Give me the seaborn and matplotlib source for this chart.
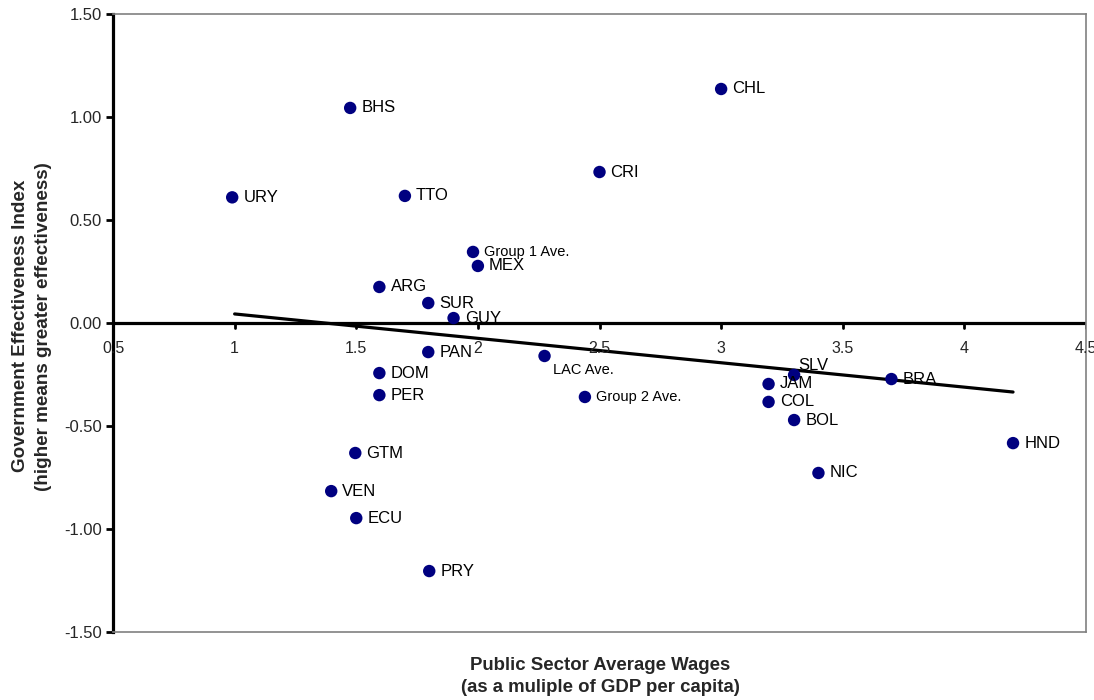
import matplotlib
matplotlib.use('Agg')
import numpy as np
import pandas as pd
import seaborn as sns
import matplotlib.pyplot as plt

# data
codes = ['URY', 'BHS', 'TTO', 'CHL', 'CRI', 'Group 1 Ave.', 'MEX', 'ARG', 'SUR', 'GUY',
         'PAN', 'DOM', 'PER', 'LAC Ave.', 'Group 2 Ave.', 'SLV', 'JAM', 'COL', 'BOL',
         'BRA', 'HND', 'NIC', 'GTM', 'VEN', 'ECU', 'PRY']
wages = [0.99, 1.475, 1.70, 3.00, 2.50, 1.98, 2.00, 1.595, 1.796, 1.90,
         1.796, 1.595, 1.595, 2.274, 2.44, 3.30, 3.195, 3.195, 3.30,
         3.70, 4.20, 3.40, 1.496, 1.397, 1.50, 1.80]
effectiveness = [0.61, 1.044, 0.617, 1.136, 0.733, 0.345, 0.277, 0.175, 0.097, 0.024,
                 -0.141, -0.243, -0.35, -0.160, -0.359, -0.252, -0.296, -0.383, -0.471,
                 -0.272, -0.583, -0.728, -0.631, -0.816, -0.947, -1.204]
trend_x = [1.0, 4.2]
trend_y = [0.044, -0.335]
x_ticks = [0.5, 1, 1.5, 2, 2.5, 3, 3.5, 4, 4.5]
x_tick_labels = ['0.5', '1', '1.5', '2', '2.5', '3', '3.5', '4', '4.5']
y_ticks = [-1.5, -1.0, -0.5, 0.0, 0.5, 1.0, 1.5]

df = pd.DataFrame({'code': codes, 'wage': wages, 'eff': effectiveness})

sns.set_style('white')
plt.rcParams['font.family'] = ['Liberation Sans', 'DejaVu Sans']

fig = plt.figure(figsize=(10.94, 7), dpi=100)
ax = fig.add_axes([0.1033, 0.0971, 0.8894, 0.8829])

sns.lineplot(x=trend_x, y=trend_y, color='black', linewidth=2.3, ax=ax, zorder=2)
sns.scatterplot(data=df, x='wage', y='eff', color='#000080', s=80,
                edgecolor='none', ax=ax, zorder=3)

# label offsets (points) - most labels sit to the right of the dot
offsets = {'SLV': (3, 7), 'LAC Ave.': (6, -10)}
for i in range(df.shape[0]):
    c = df['code'].iloc[i]
    small = 'Ave.' in c
    dx, dy = offsets.get(c, (8, 0))
    ax.annotate(c, (df['wage'].iloc[i], df['eff'].iloc[i]),
                xytext=(dx, dy), textcoords='offset points',
                ha='left', va='center', fontsize=10.5 if small else 12, color='black')

ax.set_xlim(0.5, 4.5)
ax.set_ylim(-1.5, 1.5)

# horizontal axis at zero, with its labels just under it
ax.axhline(0, color='black', linewidth=2.3, zorder=1)
for t in x_ticks:
    ax.plot([t, t], [0, -0.025], color='black', linewidth=2, zorder=1)
    ax.text(t, -0.085, x_tick_labels[x_ticks.index(t)], ha='center', va='top', fontsize=11.5)
ax.set_xticks([])

ax.set_yticks(y_ticks)
ax.set_yticklabels(['%.2f' % v for v in y_ticks], fontsize=12)
ax.tick_params(axis='y', direction='out', length=5, width=2, color='black', left=True, pad=3)

for side in ['top', 'right', 'bottom']:
    ax.spines[side].set_color('#808080')
    ax.spines[side].set_linewidth(1.2)
ax.spines['left'].set_color('black')
ax.spines['left'].set_linewidth(2.3)

ax.set_xlabel('')
ax.set_ylabel('')
fig.text(0.0295, 0.534, 'Government Effectiveness Index\n(higher means greater effectiveness)',
         rotation=90, ha='center', va='center', fontsize=13.6, fontweight='bold', linespacing=1.45)
fig.text(0.5485, 0.062, 'Public Sector Average Wages\n(as a muliple of GDP per capita)',
         ha='center', va='top', fontsize=13.4, fontweight='bold', linespacing=1.45)

fig.savefig('out.png', dpi=100)
